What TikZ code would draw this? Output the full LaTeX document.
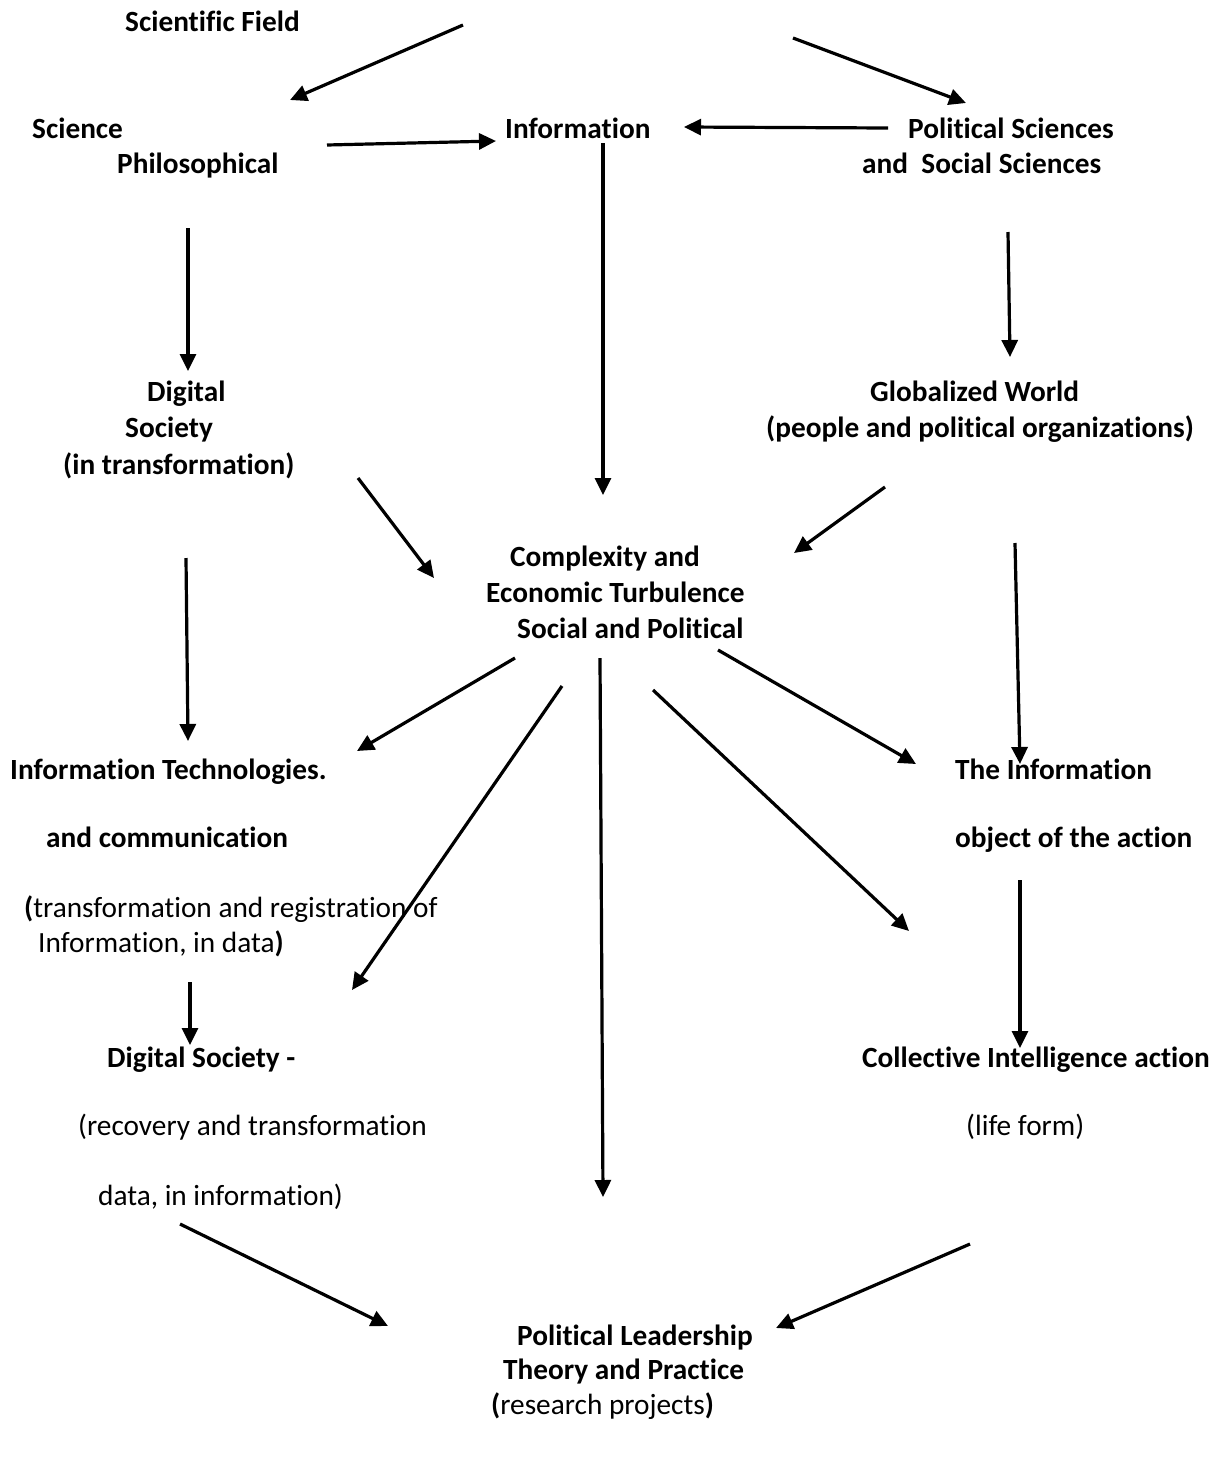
\documentclass[tikz,border=0pt]{standalone}
\usepackage{fontspec}
\setmainfont[Ligatures=NoCommon]{Carlito}
\usetikzlibrary{arrows.meta}
\begin{document}
\begin{tikzpicture}[x=1pt,y=-1pt,
  lbl/.style={anchor=base west,inner sep=0pt,font=\fontsize{29.3}{35}\selectfont\bfseries},
  plain/.style={anchor=base west,inner sep=0pt,font=\fontsize{29.3}{35}\selectfont},
  arr/.style={line width=3.2pt,-{Triangle[length=17pt,width=16pt]}}]
\useasboundingbox[fill=white] (0,0) rectangle (1222,1457);
% texts
\node[lbl] (sf) at (125,31) {Scientific Field};
\node[lbl] (sci) at (32,138) {Science};
\node[lbl] (phil) at (117,173) {Philosophical};
\node[lbl] (info) at (505,138) {Information};
\node[lbl] (pol1) at (908,138) {Political Sciences};
\node[lbl] (pol2) at (862,173) {and\ \ Social Sciences};
\node[lbl] (dig1) at (147,401) {Digital};
\node[lbl] (dig2) at (125,437) {Society};
\node[lbl] (dig3) at (63,474) {(in transformation)};
\node[lbl] (glob1) at (870,401) {Globalized World};
\node[lbl] (glob2) at (766,437) {(people and political organizations)};
\node[lbl] (cx1) at (510,566) {Complexity and};
\node[lbl] (cx2) at (486,602) {Economic Turbulence};
\node[lbl] (cx3) at (517,638) {Social and Political};
\node[lbl] (it1) at (10,779) {Information Technologies.};
\node[lbl] (it2) at (46,847) {and communication};
\node[plain] (it3) at (24,917) {\textbf{(}transformation and registration of};
\node[plain] (it4) at (38,952) {Information, in data\textbf{)}};
\node[lbl] (ti1) at (955,779) {The Information};
\node[lbl] (ti2) at (955,847) {object of the action};
\node[lbl] (ds1) at (107,1067) {Digital Society -};
\node[plain] (ds2) at (78,1135) {(recovery and transformation};
\node[plain] (ds3) at (98,1205) {data, in information)};
\node[lbl] (ci1) at (862,1067) {Collective Intelligence action};
\node[plain] (ci2) at (966,1135) {(life form)};
\node[lbl] (pl1) at (517,1345) {Political Leadership};
\node[lbl] (pl2) at (503,1379) {Theory and Practice};
\node[plain] (pl3) at (491,1414) {\textbf{(}research projects\textbf{)}};
% arrow end points
\coordinate (a1s) at (463,25);   \coordinate (a1e) at (290,100);
\coordinate (a2s) at (793,38);   \coordinate (a2e) at (966,103);
\coordinate (a3s) at (327,145);  \coordinate (a3e) at (496,141);
\coordinate (a4s) at (888,128);  \coordinate (a4e) at (684,127);
\coordinate (a5s) at (188,228);  \coordinate (a5e) at (188,371);
\coordinate (a6s) at (603,143);  \coordinate (a6e) at (603,495);
\coordinate (a7s) at (1008,232); \coordinate (a7e) at (1010,357);
\coordinate (a8s) at (358,478);  \coordinate (a8e) at (434,578);
\coordinate (a9s) at (885,487);  \coordinate (a9e) at (794,553);
\coordinate (a10s) at (1015,543); \coordinate (a10e) at (1020,764);
\coordinate (a11s) at (186,558); \coordinate (a11e) at (188,741);
\coordinate (a12s) at (515,658); \coordinate (a12e) at (357,751);
\coordinate (a13s) at (562,686); \coordinate (a13e) at (352,990);
\coordinate (a14s) at (600,658); \coordinate (a14e) at (603,1197);
\coordinate (a15s) at (653,690); \coordinate (a15e) at (909,931);
\coordinate (a16s) at (718,650); \coordinate (a16e) at (916,764);
\coordinate (a17s) at (1020,880); \coordinate (a17e) at (1020,1048);
\coordinate (a18s) at (190,982); \coordinate (a18e) at (190,1045);
\coordinate (a19s) at (180,1224); \coordinate (a19e) at (388,1326);
\coordinate (a20s) at (970,1244); \coordinate (a20e) at (776,1328);
\foreach \i in {1,...,20} {\draw[arr] (a\i s) -- (a\i e);}
\end{tikzpicture}
\end{document}
